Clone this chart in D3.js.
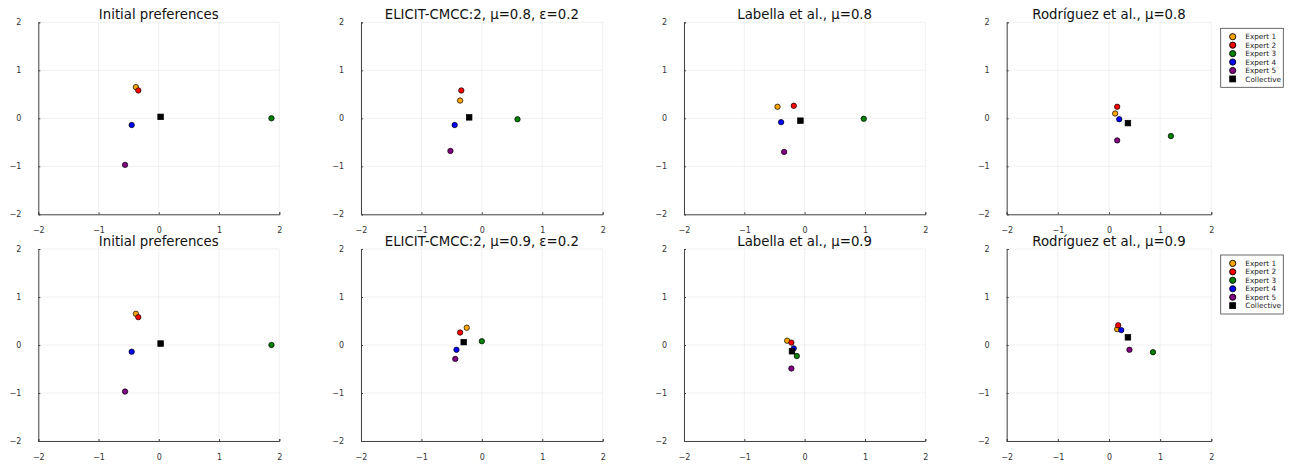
<!DOCTYPE html>
<html>
<head>
<meta charset="utf-8">
<script src="https://cdn.jsdelivr.net/npm/d3@7"></script>
<style>
  body { margin: 0; background: #fff; }
  svg { display: block; font-family: "DejaVu Sans", sans-serif; }
</style>
</head>
<body>
<svg id="chart" width="1294" height="464"></svg>
<script>
// Series names and marker colours (Expert 1..5, then collective)
const seriesNames = ["Expert 1", "Expert 2", "Expert 3", "Expert 4", "Expert 5", "Collective"];
const seriesColors = ["#FFA500", "#FF0000", "#008000", "#0000FF", "#800080", "#000000"];

const panelTitles = [
  "Initial preferences", "ELICIT-CMCC:2, μ=0.8, ε=0.2", "Labella et al., μ=0.8", "Rodríguez et al., μ=0.8",
  "Initial preferences", "ELICIT-CMCC:2, μ=0.9, ε=0.2", "Labella et al., μ=0.9", "Rodríguez et al., μ=0.9"
];

const ticks = [-2, -1, 0, 1, 2];

// [x, y] per series, Expert 1..5 then Collective
const initialPrefs = [[-0.38, 0.65], [-0.34, 0.58], [1.87, 0.0], [-0.45, -0.14], [-0.56, -0.97], [0.03, 0.03]];
const elicit08 = [[-0.36, 0.37], [-0.34, 0.58], [0.59, -0.02], [-0.45, -0.14], [-0.52, -0.68], [-0.21, 0.02]];
const labella08 = [[-0.45, 0.24], [-0.18, 0.26], [0.98, -0.01], [-0.39, -0.08], [-0.34, -0.70], [-0.07, -0.05]];
const rodriguez08 = [[0.12, 0.10], [0.16, 0.24], [1.21, -0.37], [0.20, -0.02], [0.16, -0.46], [0.37, -0.10]];
const elicit09 = [[-0.25, 0.36], [-0.36, 0.26], [0.0, 0.08], [-0.42, -0.10], [-0.44, -0.29], [-0.30, 0.06]];
const labella09 = [[-0.29, 0.09], [-0.22, 0.05], [-0.13, -0.23], [-0.18, -0.07], [-0.22, -0.49], [-0.21, -0.13]];
const rodriguez09 = [[0.16, 0.33], [0.18, 0.41], [0.86, -0.15], [0.24, 0.31], [0.40, -0.10], [0.37, 0.16]];

const panelData = [initialPrefs, elicit08, labella08, rodriguez08, initialPrefs, elicit09, labella09, rodriguez09];

// plot-area boxes (left, right) per column and (top, bottom) per row
const colBoxes = [[38.3, 279.3], [361, 602.7], [684, 925.3], [1006.7, 1211.3]];
const rowBoxes = [[22.3, 214.3], [249, 441]];

const svg = d3.select("#chart");
const tickFmt = (d) => d3.format("")(d).replace("-", "−");

panelData.forEach((points, p) => {
  const col = p % 4;
  const row = Math.floor(p / 4);
  const [x0, x1] = colBoxes[col];
  const [y0, y1] = rowBoxes[row];

  const x = d3.scaleLinear().domain([-2, 2]).range([x0, x1]);
  const y = d3.scaleLinear().domain([-2, 2]).range([y1, y0]);

  const g = svg.append("g");

  // grid
  g.append("g")
    .selectAll("line")
    .data(ticks)
    .join("line")
    .attr("x1", (d) => x(d)).attr("x2", (d) => x(d))
    .attr("y1", y0).attr("y2", y1)
    .attr("stroke", "rgba(0,0,0,0.1)").attr("stroke-width", 0.6);
  g.append("g")
    .selectAll("line")
    .data(ticks)
    .join("line")
    .attr("y1", (d) => y(d)).attr("y2", (d) => y(d))
    .attr("x1", x0).attr("x2", x1)
    .attr("stroke", "rgba(0,0,0,0.1)").attr("stroke-width", 0.6);

  // axes (left and bottom only)
  const xAxis = d3.axisBottom(x).tickValues(ticks).tickSize(-2).tickPadding(13).tickFormat(tickFmt);
  const yAxis = d3.axisLeft(y).tickValues(ticks).tickSize(-2).tickPadding(17).tickFormat(tickFmt);

  const gx = g.append("g").attr("transform", `translate(0,${y1})`).call(xAxis);
  const gy = g.append("g").attr("transform", `translate(${x0},0)`).call(yAxis);
  [gx, gy].forEach((ax) => {
    ax.select(".domain").attr("stroke", "#444").attr("stroke-width", 1);
    ax.selectAll(".tick line").attr("stroke", "#444");
    ax.selectAll("text")
      .attr("font-family", "DejaVu Sans, sans-serif")
      .attr("font-size", 8)
      .attr("fill", "#333");
  });

  // title
  g.append("text")
    .attr("x", (x0 + x1) / 2)
    .attr("y", y0 - 3.5)
    .attr("text-anchor", "middle")
    .attr("font-size", 13.3)
    .attr("fill", "#111")
    .text(panelTitles[p]);

  // markers
  const marks = g.append("g");
  points.forEach((pt, i) => {
    if (i < 5) {
      marks.append("circle")
        .attr("cx", x(pt[0])).attr("cy", y(pt[1])).attr("r", 2.7)
        .attr("fill", seriesColors[i])
        .attr("stroke", "#000").attr("stroke-width", 0.7);
    } else {
      marks.append("rect")
        .attr("x", x(pt[0]) - 2.8).attr("y", y(pt[1]) - 2.8)
        .attr("width", 5.6).attr("height", 5.6)
        .attr("fill", seriesColors[i])
        .attr("stroke", "#000").attr("stroke-width", 0.7);
    }
  });

  // legend on the right-hand panels
  if (col === 3) {
    const lg = svg.append("g").attr("transform", `translate(1220.7,${y0 + 6})`);
    lg.append("rect")
      .attr("width", 62.6).attr("height", 59)
      .attr("fill", "#fff").attr("stroke", "#444").attr("stroke-width", 0.8);
    seriesNames.forEach((name, i) => {
      const cy = 8.4 + i * 8.45;
      if (i < 5) {
        lg.append("circle").attr("cx", 12).attr("cy", cy).attr("r", 3.1)
          .attr("fill", seriesColors[i]).attr("stroke", "#000").attr("stroke-width", 0.9);
      } else {
        lg.append("rect").attr("x", 9).attr("y", cy - 3).attr("width", 6).attr("height", 6)
          .attr("fill", seriesColors[i]).attr("stroke", "#000").attr("stroke-width", 0.7);
      }
      lg.append("text").attr("x", 24.6).attr("y", cy).attr("dy", "0.35em")
        .attr("font-size", 7.3).attr("fill", "#222").text(name);
    });
  }
});
</script>
</body>
</html>
